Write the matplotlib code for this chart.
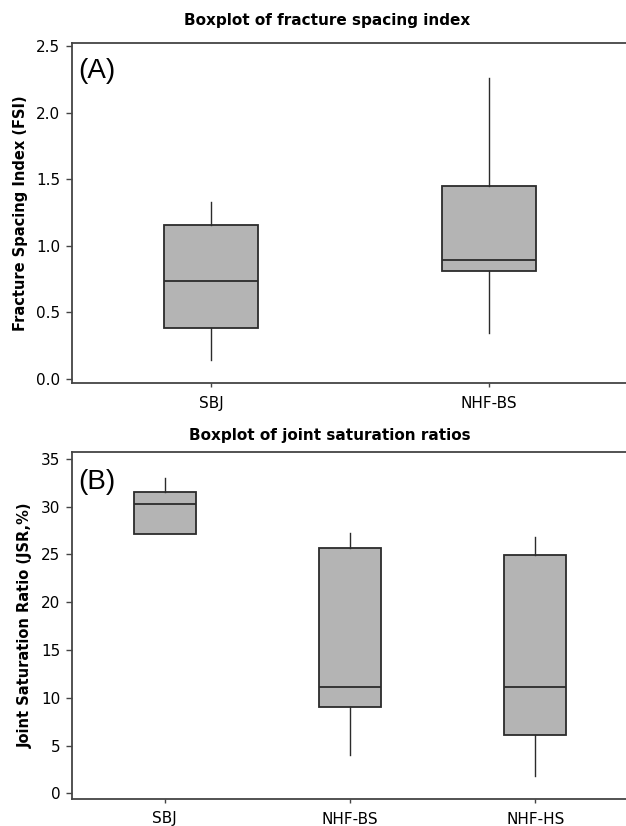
import matplotlib
matplotlib.use('Agg')
import matplotlib.pyplot as plt

# panel A: fracture spacing index
fsi_groups = ['SBJ', 'NHF-BS']
fsi_low = [0.14, 0.345]
fsi_q1 = [0.385, 0.813]
fsi_med = [0.735, 0.893]
fsi_q3 = [1.155, 1.45]
fsi_high = [1.33, 2.26]

# panel B: joint saturation ratio
jsr_groups = ['SBJ', 'NHF-BS', 'NHF-HS']
jsr_low = [27.1, 4.0, 1.85]
jsr_q1 = [27.1, 9.0, 6.1]
jsr_med = [30.3, 11.1, 11.1]
jsr_q3 = [31.5, 25.7, 24.95]
jsr_high = [33.0, 27.3, 26.8]

boxColor = '#b4b4b4'
edgeColor = '#2b2b2b'
spineColor = '#444444'


def makeStats(groups, low, q1, med, q3, high):
    stats = []
    for i in range(len(groups)):
        stats.append({'label': groups[i], 'whislo': low[i], 'q1': q1[i],
                      'med': med[i], 'q3': q3[i], 'whishi': high[i],
                      'fliers': []})
    return stats


def drawPanel(ax, stats, ylim, yticks, yticklabels, ylabel, tag):
    ax.bxp(stats, widths=0.336, patch_artist=True, showfliers=False,
           boxprops=dict(facecolor=boxColor, edgecolor=edgeColor, linewidth=1.3),
           medianprops=dict(color=edgeColor, linewidth=1.3),
           whiskerprops=dict(color=edgeColor, linewidth=1.0),
           capprops=dict(linewidth=0))
    ax.set_xlim(0.5, len(stats) + 0.5)
    ax.set_ylim(ylim)
    ax.set_yticks(yticks)
    ax.set_yticklabels(yticklabels)
    ax.spines['right'].set_visible(False)
    for s in ['left', 'bottom', 'top']:
        ax.spines[s].set_color(spineColor)
        ax.spines[s].set_linewidth(1.3)
    ax.tick_params(axis='y', length=4.3, width=1, color=spineColor,
                   labelsize=11, pad=4)
    ax.tick_params(axis='x', length=3, width=1, color=spineColor,
                   labelsize=11, pad=6)
    ax.set_ylabel(ylabel, fontsize=10.5, fontweight='bold', labelpad=6)
    ax.text(0.011, 0.895, tag, transform=ax.transAxes, fontsize=20,
            family='Liberation Sans', va='baseline', ha='left')


fig = plt.figure(figsize=(6.26, 8.26), dpi=100)

axA = fig.add_axes([72 / 626, 1 - 383.3 / 826, 556 / 626, 340.6 / 826])
drawPanel(axA, makeStats(fsi_groups, fsi_low, fsi_q1, fsi_med, fsi_q3, fsi_high),
          (-0.032, 2.525), [0.0, 0.5, 1.0, 1.5, 2.0, 2.5],
          ['0.0', '0.5', '1.0', '1.5', '2.0', '2.5'],
          'Fracture Spacing Index (FSI)', '(A)')

axB = fig.add_axes([72 / 626, 1 - 799 / 826, 556 / 626, 346.7 / 826])
drawPanel(axB, makeStats(jsr_groups, jsr_low, jsr_q1, jsr_med, jsr_q3, jsr_high),
          (-0.6, 35.7), [0, 5, 10, 15, 20, 25, 30, 35],
          ['0', '5', '10', '15', '20', '25', '30', '35'],
          'Joint Saturation Ratio (JSR,%)', '(B)')

fig.text(327 / 626, 1 - 20 / 826, 'Boxplot of fracture spacing index',
         ha='center', va='center', fontsize=11, fontweight='bold')
fig.text(330 / 626, 1 - 436 / 826, 'Boxplot of joint saturation ratios',
         ha='center', va='center', fontsize=11, fontweight='bold')

fig.savefig('out.png', dpi=100)
